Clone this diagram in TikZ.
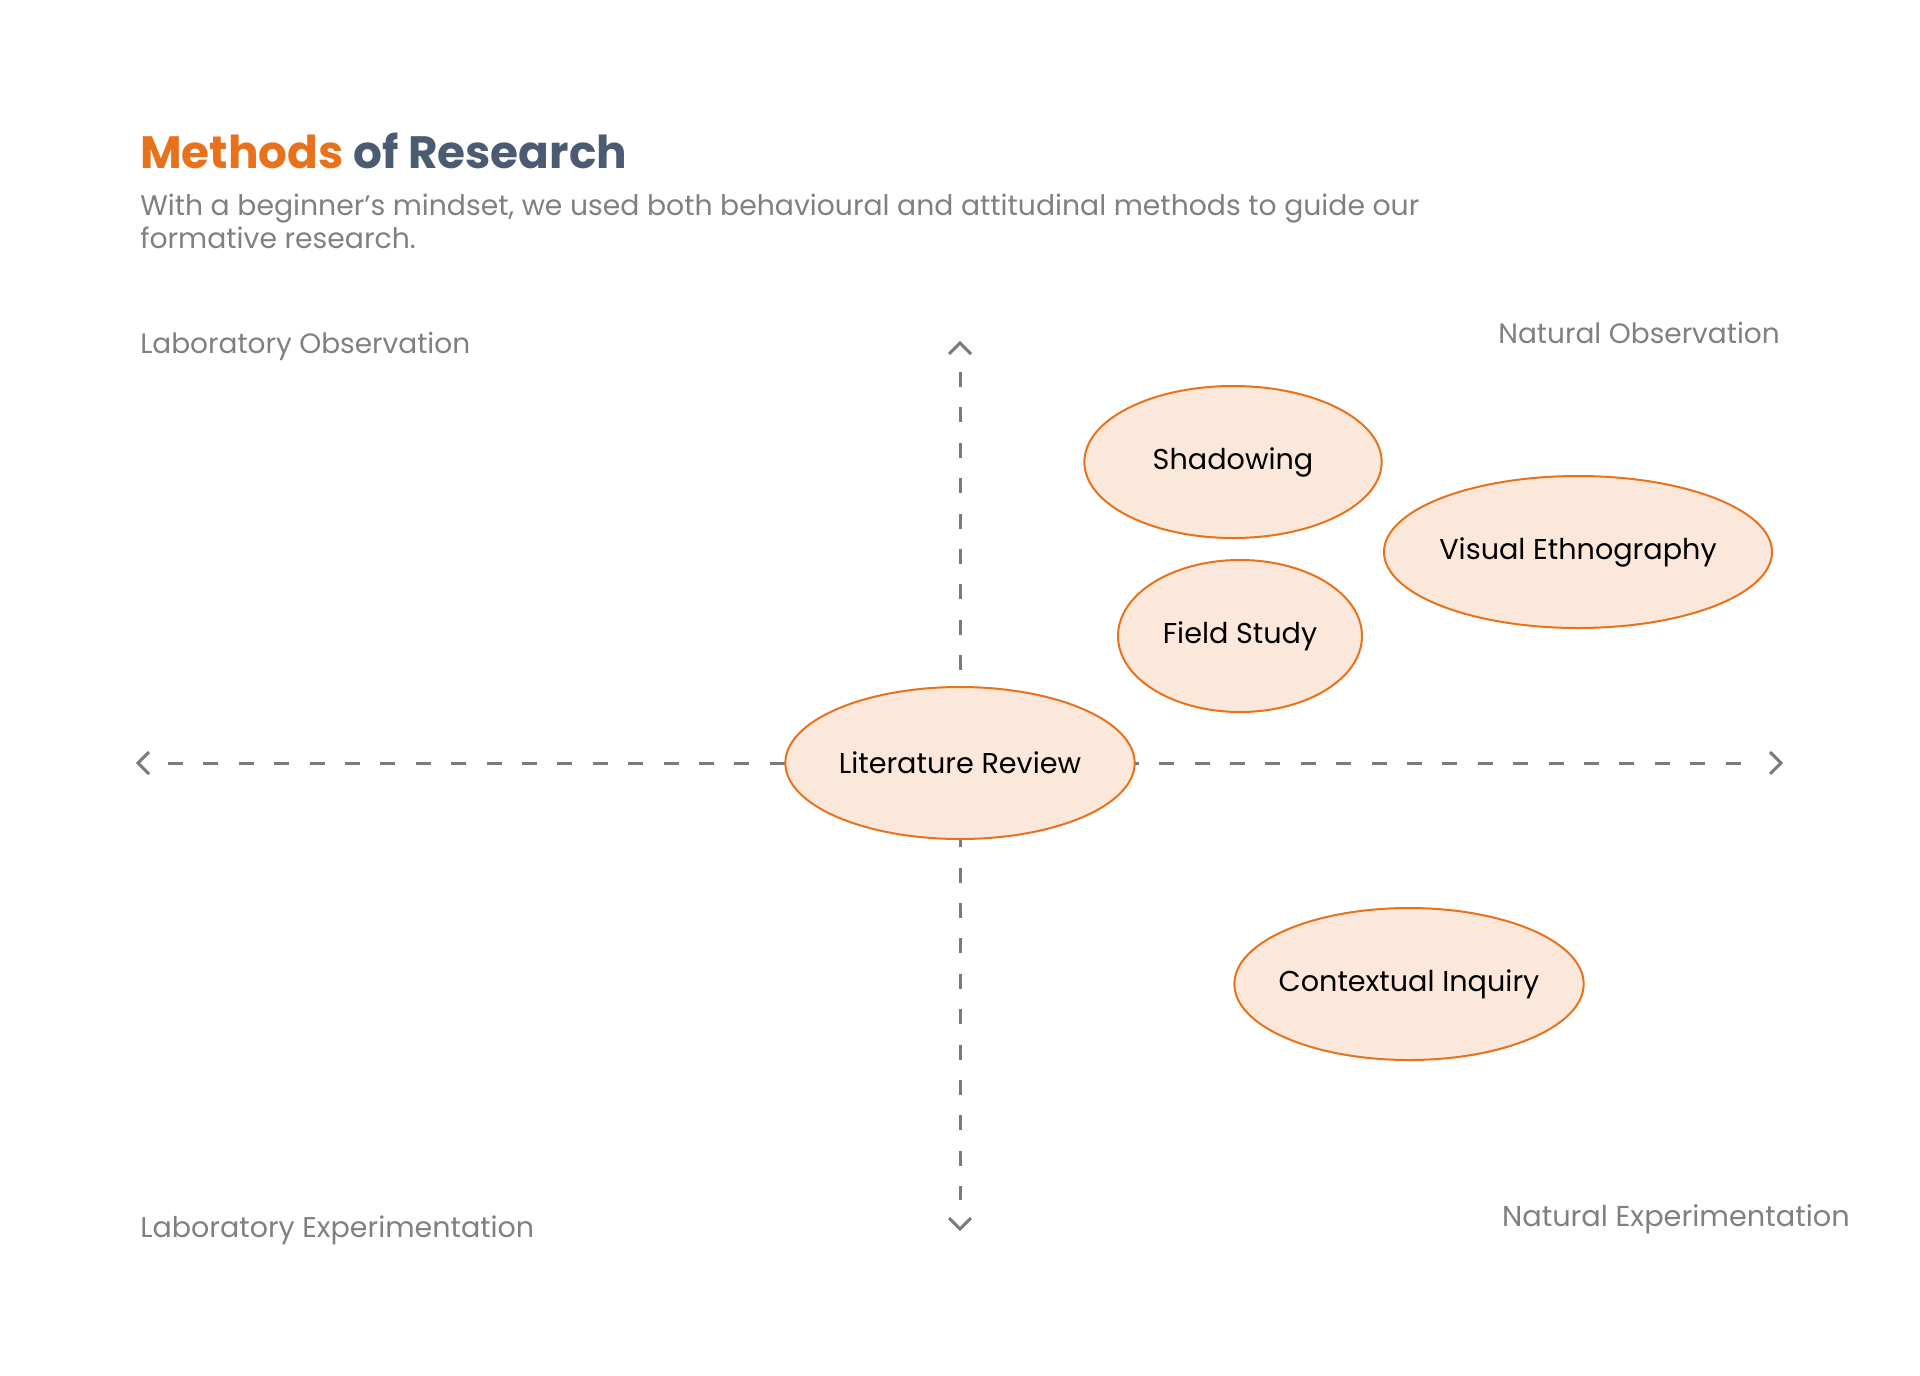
\documentclass[tikz,border=0pt]{standalone}
\usepackage{fontspec}
\setmainfont{Poppins}
\usetikzlibrary{shapes.geometric}
\definecolor{methodorange}{HTML}{E8721C}
\definecolor{slateblue}{HTML}{4B5B72}
\definecolor{labelgray}{HTML}{808080}
\definecolor{axisgray}{HTML}{7A7A7A}
\definecolor{bubblefill}{HTML}{FBE8DA}
\begin{document}
\begin{tikzpicture}[x=0.75pt,y=-0.75pt,
	method/.style={ellipse,draw=methodorange,fill=bubblefill,line width=1.5pt,inner xsep=-12pt,inner ysep=0pt,minimum height=114pt,font=\fontsize{21.5}{26}\selectfont},
	corner/.style={inner sep=0pt,text=labelgray,font=\fontsize{21}{25}\selectfont},
	axis/.style={draw=axisgray,line width=2.25pt,dash pattern=on 11.25pt off 15.3pt},
	chevron/.style={draw=axisgray,line width=2.25pt}]
	\useasboundingbox (0,0) rectangle (1920,1375);
	% heading
	\node[anchor=base west,inner sep=0pt,font=\fontsize{34}{40}\selectfont\bfseries] (title) at (140,168) {\textcolor{methodorange}{Methods} \textcolor{slateblue}{of Research}};
	\node[anchor=base west,inner sep=0pt,align=left,text=labelgray,font=\fontsize{21.2}{24.75}\selectfont] (intro) at (140,248) {With a beginner’s mindset, we used both behavioural and attitudinal methods to guide our\\formative research.};
	% quadrant labels
	\node[corner,anchor=base west] (labobs) at (140,353) {Laboratory Observation};
	\node[corner,anchor=base east] (natobs) at (1780,343) {Natural Observation};
	\node[corner,anchor=base west,font=\fontsize{21.4}{25}\selectfont] (labexp) at (140,1237) {Laboratory Experimentation};
	\node[corner,anchor=base east,font=\fontsize{21.6}{25}\selectfont] (natexp) at (1850,1226) {Natural Experimentation};
	% axes: tips and dash ends
	\coordinate (top) at (960,343);
	\coordinate (bottom) at (960,1229);
	\coordinate (left) at (138,763);
	\coordinate (right) at (1781,763);
	\coordinate (topend) at (960,372);
	\coordinate (bottomend) at (960,1200);
	\coordinate (leftend) at (168,763);
	\coordinate (rightend) at (1752,763);
	\draw[axis] (topend) -- (bottomend);
	\draw[axis] (leftend) -- (rightend);
	\draw[chevron] (top) ++(-11,11) -- (top) -- ++(11,11);
	\draw[chevron] (bottom) ++(-11,-11) -- (bottom) -- ++(11,-11);
	\draw[chevron] (left) ++(11,-11) -- (left) -- ++(11,11);
	\draw[chevron] (right) ++(-11,-11) -- (right) -- ++(-11,11);
	% methods
	\node[method,minimum width=223pt] (shadow) at (1233,462) {Shadowing};
	\node[method,minimum width=291pt] (visual) at (1578,552) {Visual Ethnography};
	\node[method,minimum width=183pt] (field) at (1240,636) {Field Study};
	\node[method,minimum width=262pt] (litrev) at (960,763) {Literature Review};
	\node[method,minimum width=262pt] (context) at (1409,984) {Contextual Inquiry};
\end{tikzpicture}
\end{document}
